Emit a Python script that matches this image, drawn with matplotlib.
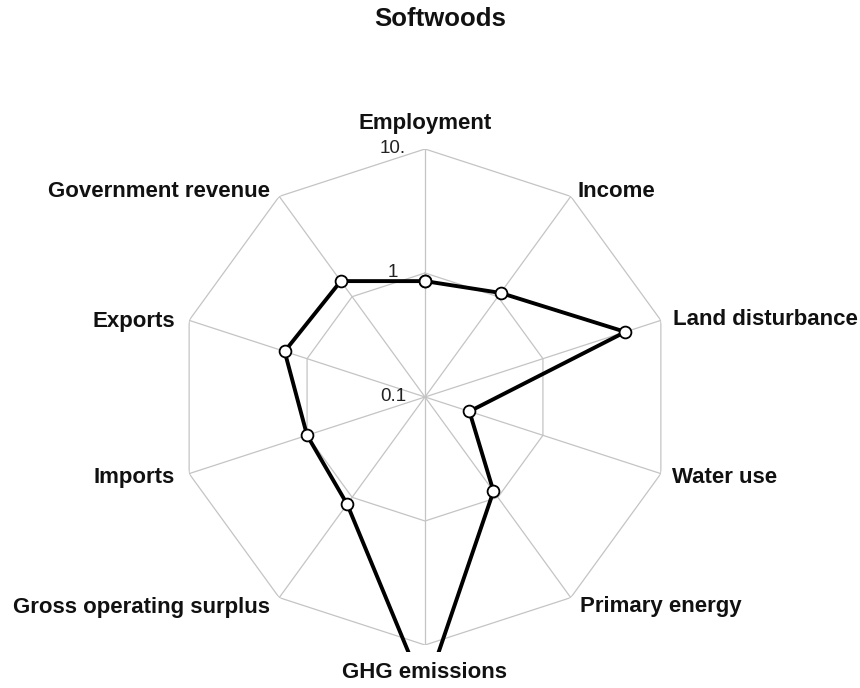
import numpy as np
import matplotlib
matplotlib.use("Agg")
import matplotlib.pyplot as plt
from matplotlib.patches import Rectangle

plt.rcParams['font.family'] = ['Liberation Sans', 'DejaVu Sans']

# Indicators, clockwise from the top
categories = ["Employment", "Income", "Land disturbance", "Water use",
              "Primary energy", "GHG emissions", "Gross operating surplus",
              "Imports", "Exports", "Government revenue"]
values = [0.86, 1.09, 5.0, 0.238, 0.87, 24.0, 1.17, 1.0, 1.55, 1.43]
ring_values = [1, 10]
tick_values = [0.1, 1, 10]
tick_labels = ["0.1", "1", "10."]
title = "Softwoods"

# label placement: (ha, dx, dy) offsets in points from the outer vertex
label_style = {
    "Employment": ("center", 0, 14.4),
    "Income": ("left", 5, -0.7),
    "Land disturbance": ("left", 8.6, -3.6),
    "Water use": ("left", 7.9, -6.5),
    "Primary energy": ("left", 6.5, -10),
    "GHG emissions": ("center", 0, -23.8),
    "Gross operating surplus": ("right", -6.5, -10.8),
    "Imports": ("right", -10, -6.5),
    "Exports": ("right", -10, -5),
    "Government revenue": ("right", -6.5, -0.7),
}

W, H = 860, 688
fig = plt.figure(figsize=(W / 100, H / 100), dpi=100)
cx, cy, R = 425, 397, 248
ax = fig.add_axes([(cx - R) / W, (H - cy - R) / H, 2 * R / W, 2 * R / H],
                  projection="polar")
ax.set_theta_zero_location("N")
ax.set_theta_direction(-1)
ax.set_rscale("log")
ax.set_rlim(0.1, 10)
ax.grid(False)
ax.set_xticks([])
ax.set_yticks([])
ax.spines["polar"].set_visible(False)
ax.patch.set_visible(False)

n = len(categories)
angles = np.arange(n) * 2 * np.pi / n
closed_angles = np.append(angles, angles[0])

grid_color = "#c4c4c4"
for th in angles:
    ax.plot([th, th], [0.1, 10], color=grid_color, lw=0.9, zorder=1)
for rv in ring_values:
    ax.plot(closed_angles, [rv] * (n + 1), color=grid_color, lw=0.9, zorder=1)

closed_vals = values + values[:1]
line, = ax.plot(closed_angles, closed_vals, color="black", lw=2.8,
                marker="o", mfc="white", mec="black", ms=8.5, mew=1.3,
                zorder=5)
clip_rect = Rectangle((0, (H - 652) / H), 1, 1, transform=fig.transFigure)
line.set_clip_path(clip_rect)

for v, lbl in zip(tick_values, tick_labels):
    ax.annotate(lbl, xy=(0, v), xytext=(-23, 0.7), textcoords="offset points",
                ha="center", va="center", fontsize=13.5, color="#222222",
                annotation_clip=False)

for th, cat in zip(angles, categories):
    ha, dx, dy = label_style[cat]
    ax.annotate(cat, xy=(th, 10), xytext=(dx, dy), textcoords="offset points",
                ha=ha, va="baseline", fontsize=16, fontweight="bold",
                color="#111111", annotation_clip=False)

fig.text(440 / W, 1 - 19 / H, title, ha="center", va="center",
         fontsize=18.5, fontweight="bold", color="#111111")

fig.savefig("out.png", dpi=100, facecolor="white")
